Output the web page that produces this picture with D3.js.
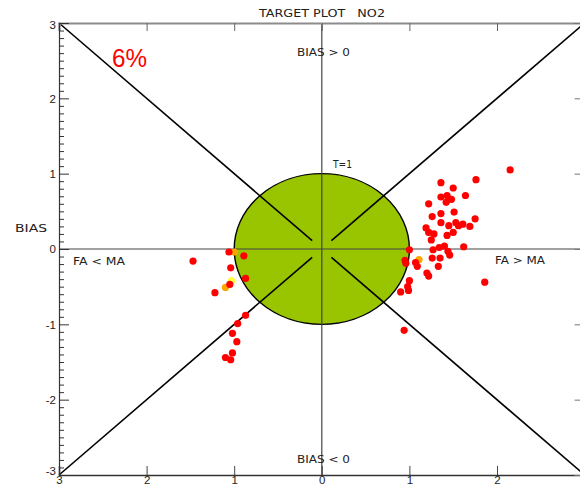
<!DOCTYPE html>
<html>
<head>
<meta charset="utf-8">
<script src="https://cdn.jsdelivr.net/npm/d3@7"></script>
<style>
  html, body { margin: 0; padding: 0; background: #fff; }
  svg { display: block; }
  text { font-family: "DejaVu Sans", sans-serif; fill: #222; }
  .tick text { font-family: "Liberation Sans", Arial, sans-serif; font-size: 11.5px; fill: #222; }
</style>
</head>
<body>
<svg id="chart" width="580" height="488"></svg>
<script>
// Target plot for NO2: x = CRMSE (signed by FA vs MA), y = BIAS, both normalised
const chartTitle = "TARGET PLOT   NO2";
const scoreLabel = "6%";
const axisTicks = [-3, -2, -1, 0, 1, 2, 3];
const xLabelTicks = [-3, -2, -1, 0, 1, 2];

// Stations shown in red
const redX = [2.15, 1.76, 1.36, 1.50, 1.36, 1.43, 1.64, 1.48, 1.42, 1.22,
              1.51, 1.36, 1.26, 1.75, 1.36, 1.53, 1.61, 1.56, 1.45, 1.69,
              1.19, 1.22, 1.28, 1.50, 1.43, 1.25, 1.34, 1.40, 1.62, 1.27,
              1.00, 1.44, 1.46, 1.26, 1.35, 0.95, 1.07, 0.96, 1.09, 1.33,
              1.20, 1.22, 1.00, 1.86, 0.98, 0.99, 0.90, 0.94,
              -1.06, -1.47, -0.89, -1.04, -1.05, -0.87, -1.22, -0.87, -0.96,
              -1.02, -0.97, -1.02, -1.10, -1.04];
const redY = [1.05, 0.92, 0.88, 0.81, 0.69, 0.71, 0.71, 0.66, 0.62, 0.60,
              0.49, 0.47, 0.43, 0.40, 0.35, 0.35, 0.33, 0.31, 0.31, 0.30,
              0.28, 0.22, 0.20, 0.22, 0.18, 0.12, 0.02, 0.04, 0.03, -0.01,
              -0.01, -0.03, -0.08, -0.12, -0.12, -0.15, -0.18, -0.19, -0.23, -0.23,
              -0.32, -0.36, -0.42, -0.44, -0.50, -0.55, -0.57, -1.08,
              -0.04, -0.16, -0.09, -0.25, -0.47, -0.39, -0.58, -0.88, -0.99,
              -1.12, -1.23, -1.38, -1.44, -1.47];
// Stations shown in orange
const orangeX = [1.11, -1.00, -1.10];
const orangeY = [-0.14, -0.04, -0.51];
// Stations shown in yellow
const yellowX = [-1.03];
const yellowY = [-0.42];

const svg = d3.select("#chart");

const x = d3.scaleLinear().domain([-3, 3]).range([59, 584.6]);
const y = d3.scaleLinear().domain([-3, 3]).range([475, 23]);
const minorTicks = d3.range(-30, 31).filter(v => v % 10 !== 0).map(v => v / 10);

// Target area (unit circle)
svg.append("ellipse")
  .attr("cx", x(0)).attr("cy", y(0))
  .attr("rx", x(1) - x(0)).attr("ry", y(0) - y(1))
  .attr("fill", "#99c400").attr("stroke", "#000").attr("stroke-width", 1.4);

// Zero lines
svg.append("line")
  .attr("x1", x(-3)).attr("x2", x(3)).attr("y1", y(0)).attr("y2", y(0))
  .attr("stroke", "#444").attr("stroke-width", 1.2);
svg.append("line")
  .attr("x1", x(0)).attr("x2", x(0)).attr("y1", y(3)).attr("y2", y(-3))
  .attr("stroke", "#444").attr("stroke-width", 1.2);

// Diagonals with a gap at the centre
const gap = 0.11;
const diag = [
  [[-3, 3], [-gap, gap]], [[gap, -gap], [3, -3]],
  [[-3, -3], [-gap, -gap]], [[gap, gap], [3, 3]]
];
svg.selectAll("line.diag").data(diag).join("line")
  .attr("class", "diag")
  .attr("x1", d => x(d[0][0])).attr("y1", d => y(d[0][1]))
  .attr("x2", d => x(d[1][0])).attr("y2", d => y(d[1][1]))
  .attr("stroke", "#000").attr("stroke-width", 1.6);

// Axes
const fmtAbs = d => Math.abs(d);

const axBottom = svg.append("g").attr("transform", `translate(0,${y(-3)})`)
  .call(d3.axisBottom(x).tickValues(xLabelTicks).tickSize(-9).tickPadding(1).tickFormat(fmtAbs));
axBottom.select(".domain").attr("stroke", "#333").attr("stroke-width", 1.5);
axBottom.selectAll(".tick line").attr("stroke", "#444");

const axTop = svg.append("g").attr("transform", `translate(0,${y(3)})`)
  .call(d3.axisTop(x).tickValues(axisTicks).tickSize(-8).tickFormat(""));
axTop.select(".domain").attr("stroke", "#8c8c8c").attr("stroke-width", 2.2);
axTop.selectAll(".tick line").attr("stroke", "#666");

const axLeft = svg.append("g").attr("transform", `translate(${x(-3)},0)`)
  .call(d3.axisLeft(y).tickValues(axisTicks).tickSize(-10).tickPadding(3).tickFormat(d => d));
axLeft.select(".domain").attr("stroke", "#333").attr("stroke-width", 1.2);
axLeft.selectAll(".tick line").attr("stroke", "#333");
axLeft.selectAll(".tick text").attr("dy", d => d === -3 ? "-0.05em" : d === 3 ? "0.5em" : "0.32em");

const axLeftMinor = svg.append("g").attr("transform", `translate(${x(-3)},0)`)
  .call(d3.axisLeft(y).tickValues(minorTicks).tickSize(-5).tickFormat(""));
axLeftMinor.select(".domain").remove();
axLeftMinor.selectAll(".tick line").attr("stroke", "#333");

const axRight = svg.append("g").attr("transform", `translate(${x(3)},0)`)
  .call(d3.axisRight(y).tickValues(axisTicks).tickSize(-10).tickFormat(""));
axRight.select(".domain").attr("stroke", "#333");
axRight.selectAll(".tick line").attr("stroke", "#777");

// Station points: lighter colours underneath, red on top
const dot = (xs, ys, color) => {
  svg.append("g").selectAll("circle").data(xs.map((v, i) => [v, ys[i]])).join("circle")
    .attr("cx", d => x(d[0])).attr("cy", d => y(d[1])).attr("r", 3.6)
    .attr("fill", color);
};
dot(yellowX, yellowY, "#ffff40");
dot(orangeX, orangeY, "#ffa500");
dot(redX, redY, "#ff0000");

// Labels
const label = (txt, px, py, opts = {}) => {
  const t = svg.append("text").attr("x", px).attr("y", py)
    .attr("font-size", opts.size || 11)
    .attr("text-anchor", opts.anchor || "start")
    .style("white-space", "pre")
    .text(txt);
  if (opts.len) t.attr("textLength", opts.len).attr("lengthAdjust", "spacingAndGlyphs");
  if (opts.color) t.style("fill", opts.color);
  if (opts.family) t.style("font-family", opts.family);
  return t;
};
label(chartTitle, 259, 17, { len: 126 });
label("BIAS > 0", 297, 56, { len: 53 });
label("BIAS < 0", 297, 463, { len: 53 });
label("T=1", 333, 168, { len: 19 });
label("BIAS", 15, 232, { len: 32 });
label("FA < MA", 73, 265, { len: 52 });
label("FA > MA", 495, 264, { len: 50 });
label(scoreLabel, 112, 67, { size: 26, color: "#ff0000", family: "Liberation Sans, Arial, sans-serif", len: 35 });
</script>
</body>
</html>
